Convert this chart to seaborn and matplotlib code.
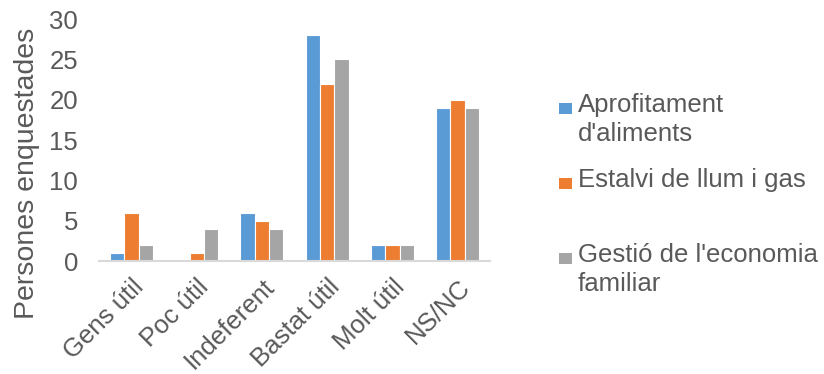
import matplotlib
matplotlib.use("Agg")
import matplotlib.pyplot as plt
import matplotlib.patches as mpatches
import seaborn as sns
import pandas as pd

categories = ["Gens útil", "Poc útil", "Indeferent", "Bastat útil", "Molt útil", "NS/NC"]
series_names = ["Aprofitament d'aliments", "Estalvi de llum i gas", "Gestió de l'economia familiar"]
legend_labels = ["Aprofitament\nd'aliments", "Estalvi de llum i gas", "Gestió de l'economia\nfamiliar"]
aprofitament = [1, 0, 6, 28, 2, 19]
estalvi = [6, 1, 5, 22, 2, 20]
gestio = [2, 4, 4, 25, 2, 19]
colors = ["#5B9BD5", "#ED7D31", "#A5A5A5"]
y_ticks = [0, 5, 10, 15, 20, 25, 30]

rows = []
for name, vals in zip(series_names, [aprofitament, estalvi, gestio]):
    for cat, v in zip(categories, vals):
        rows.append({"categoria": cat, "serie": name, "valor": v})
df = pd.DataFrame(rows)

sns.set_theme(style="white")
plt.rcParams["font.family"] = ["Liberation Sans", "DejaVu Sans"]
text_color = "#595959"
fs = 18.5

fig = plt.figure(figsize=(8.24, 3.74), dpi=100)
ax = fig.add_axes([0.120, 0.302, 0.475, 0.647])

sns.barplot(data=df, x="categoria", y="valor", hue="serie", order=categories,
            hue_order=series_names, palette=colors, saturation=1, width=0.66, ax=ax,
            edgecolor="white", linewidth=0.8, legend=False, errorbar=None)

ax.set_ylim(0, 30)
ax.set_yticks(y_ticks)
ax.set_xlim(-0.5, len(categories) - 0.5)
for s in ["top", "right", "left"]:
    ax.spines[s].set_visible(False)
ax.spines["bottom"].set_color("#D9D9D9")
ax.spines["bottom"].set_linewidth(1.5)

ax.tick_params(axis="y", length=0, pad=15, labelsize=fs, labelcolor=text_color)
ax.tick_params(axis="x", length=0, pad=10, labelsize=fs, labelcolor=text_color)
for lab in ax.get_xticklabels():
    lab.set_rotation(45)
    lab.set_ha("right")
    lab.set_va("top")
    lab.set_rotation_mode("anchor")

ax.set_xlabel("")
ax.set_ylabel("Persones enquestades", fontsize=20.5, color=text_color)
ax.yaxis.label.set_va("center")
ax.yaxis.set_label_coords(-0.184, 0.364)

# legend entries: square marker aligned with the first line of each label
entry_tops = [99, 174, 249]
for color, label, top in zip(colors, legend_labels, entry_tops):
    y_px = 374 - top
    fig.patches.append(mpatches.Rectangle((559 / 824, (y_px - 15) / 374), 13 / 824, 11 / 374,
                                          transform=fig.transFigure, facecolor=color,
                                          edgecolor="none"))
    fig.text(578 / 824, (y_px + 6) / 374, label, fontsize=fs, color=text_color,
             ha="left", va="top", linespacing=1.27)

fig.savefig("out.png", dpi=100)
